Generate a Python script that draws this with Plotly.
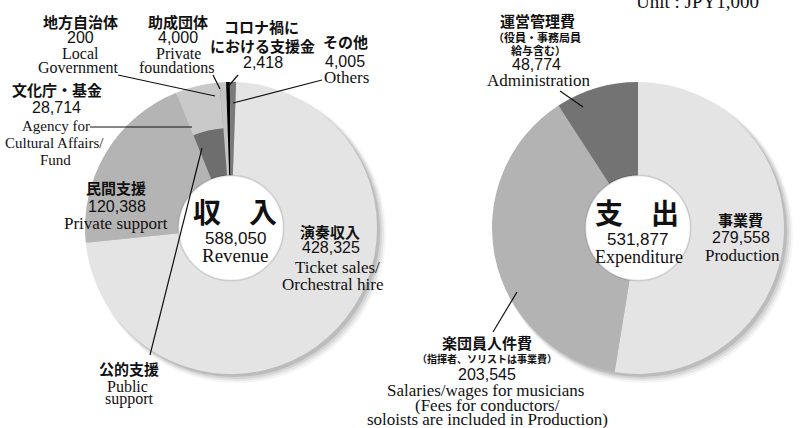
import plotly.graph_objects as go

W, H = 803, 428

# ---------------- data ----------------
rev_labels = ["演奏収入", "民間支援", "文化庁・基金", "地方自治体", "助成団体", "コロナ禍における支援金", "その他"]
rev_labels_en = ["Ticket sales/Orchestral hire", "Private support", "Agency for Cultural Affairs/Fund",
                 "Local Government", "Private foundations", "COVID-19 support", "Others"]
rev_values = [428325, 120388, 28714, 200, 4000, 2418, 4005]
rev_total = 588050

exp_labels = ["事業費", "楽団員人件費", "運営管理費"]
exp_labels_en = ["Production", "Salaries/wages for musicians", "Administration"]
exp_values = [279558, 203545, 48774]
exp_total = 531877

# ---------------- style ----------------
rev_colors = ["#e4e4e4", "#b4b4b4", "#c9c9c9", "#a0a0a0", "#c4c4c4", "#000000", "#7a7a7a"]
exp_colors = ["#e4e4e4", "#b3b3b3", "#737373"]
JP = "Noto Sans CJK JP"
NUM = "Liberation Sans"
SER = "Liberation Serif"


def dom(cx, cy, r):
    return dict(x=[(cx - r) / W, (cx + r) / W], y=[1 - (cy + r) / H, 1 - (cy - r) / H])


LCX, LCY, R = 231, 228, 146
RCX, RCY = 638, 228
HOLE = 0.36

fig = go.Figure()

fig.add_trace(go.Pie(values=rev_values, labels=rev_labels, sort=False, direction="clockwise",
                     rotation=2, hole=HOLE, domain=dom(LCX, LCY, R), textinfo="none",
                     marker=dict(colors=rev_colors, line=dict(width=0)), hoverinfo="label+value"))

# inner ring: public support (文化庁・基金 + 地方自治体)
inner_vals = [rev_values[0] + rev_values[1], rev_values[2] + rev_values[3], sum(rev_values[4:])]
RI = 100
fig.add_trace(go.Pie(values=inner_vals, labels=["a", "公的支援", "b"], sort=False, direction="clockwise",
                     rotation=2, hole=(R * HOLE) / RI, domain=dom(LCX, LCY, RI), textinfo="none",
                     marker=dict(colors=["rgba(0,0,0,0)", "#6e6e6e", "rgba(0,0,0,0)"], line=dict(width=0)),
                     hoverinfo="skip"))

fig.add_trace(go.Pie(values=exp_values, labels=exp_labels, sort=False, direction="clockwise",
                     rotation=0, hole=HOLE, domain=dom(RCX, RCY, R), textinfo="none",
                     marker=dict(colors=exp_colors, line=dict(width=0)), hoverinfo="label+value"))

shapes = []


def circ(cx, cy, rx0, rx1, ry0, ry1, fill, layer, lc="rgba(0,0,0,0)", lw=0):
    shapes.append(dict(type="circle", xref="paper", yref="paper", layer=layer,
                       x0=(cx - rx0) / W, x1=(cx + rx1) / W,
                       y0=1 - (cy + ry1) / H, y1=1 - (cy - ry0) / H,
                       fillcolor=fill, line=dict(width=lw, color=lc)))


HR = R * HOLE
for cx, cy in [(LCX, LCY), (RCX, RCY)]:
    # soft drop shadow toward lower right
    for k, op in [(9, 0.04), (7, 0.06), (5, 0.08), (3, 0.11)]:
        circ(cx, cy, R - 3, R + k, R - 3, R + k, f"rgba(0,0,0,{op})", "below")
    # white centre with a faint inner shade
    circ(cx, cy, HR, HR, HR, HR, "white", "above", "rgba(0,0,0,0.10)", 2)
    circ(cx, cy, HR - 2, HR - 2, HR - 2, HR - 2, "white", "above")


def line(x0, y0, x1, y1):
    shapes.append(dict(type="line", xref="paper", yref="paper", x0=x0 / W, y0=1 - y0 / H,
                       x1=x1 / W, y1=1 - y1 / H, line=dict(color="#111", width=1.2)))


line(118, 75, 215, 96)     # local government
line(213, 75, 220, 89)     # private foundations
line(238, 75, 227, 88)     # covid
line(322, 80, 233, 103)    # others
line(90, 127, 192, 127)    # agency
line(150, 355, 202, 148)   # public support
line(560, 91, 583, 107)    # administration
line(493, 332, 517, 292)   # salaries

anns = []


def ann(x, y, text, size, family, bold=False):
    anns.append(dict(x=x / W, y=1 - y / H, xref="paper", yref="paper", text=text, showarrow=False,
                     xanchor="center", yanchor="middle",
                     font=dict(size=size, family=family, color="#111", weight="bold" if bold else "normal")))


def num(v):
    return f"{v:,}"


# revenue labels
ann(80, 21, rev_labels[3], 15, JP, True)
ann(80, 38, num(rev_values[3]), 16, NUM)
ann(80, 54, "Local", 16, SER)
ann(78, 67, "Government", 16, SER)

ann(178, 21, rev_labels[4], 15, JP, True)
ann(178, 38, num(rev_values[4]), 16, NUM)
ann(178, 54, "Private", 16, SER)
ann(177, 67, "foundations", 16, SER)

ann(261, 27, "コロナ禍に", 15, JP, True)
ann(262, 45, "における支援金", 15, JP, True)
ann(263, 63, num(rev_values[5]), 16, NUM)

ann(345, 42, rev_labels[6], 15, JP, True)
ann(345, 61, num(rev_values[6]), 16, NUM)
ann(346, 78, "Others", 17, SER)

ann(57, 90, rev_labels[2], 15, JP, True)
ann(56, 108, num(rev_values[2]), 16, NUM)
ann(56, 126, "Agency for", 15, SER)
ann(54, 143, "Cultural Affairs/", 15, SER)
ann(55, 160, "Fund", 15, SER)

ann(116, 188, rev_labels[1], 15, JP, True)
ann(117, 206, num(rev_values[1]), 16, NUM)
ann(116, 223, "Private support", 17, SER)

ann(235, 211, "収　入", 28, JP, True)
ann(235, 238, num(rev_total), 17, NUM)
ann(235, 256, "Revenue", 19, SER)

ann(330, 231, rev_labels[0], 15, JP, True)
ann(331, 248, num(rev_values[0]), 16, NUM)
ann(337, 267, "Ticket sales/", 17, SER)
ann(332, 284, "Orchestral hire", 17, SER)

ann(129, 368, "公的支援", 15, JP, True)
ann(127, 386, "Public", 16, SER)
ann(129, 399, "support", 16, SER)

# expenditure labels
ann(697, 1, "Unit : JPY1,000", 19, SER)

ann(537, 20, exp_labels[2], 15, JP, True)
ann(537, 37, "（役員・事務局員", 11, JP, True)
ann(538, 50, "給与含む）", 11, JP, True)
ann(536, 65, num(exp_values[2]), 16, NUM)
ann(538, 81, "Administration", 17, SER)

ann(637, 212, "支　出", 28, JP, True)
ann(637, 239, num(exp_total), 17, NUM)
ann(639, 257, "Expenditure", 18, SER)

ann(740, 220, exp_labels[0], 15, JP, True)
ann(741, 237, num(exp_values[0]), 16, NUM)
ann(742, 255, "Production", 17, SER)

ann(487, 342, exp_labels[1], 15, JP, True)
ann(487, 358, "（指揮者、ソリストは事業費）", 10, JP, True)
ann(487, 374, num(exp_values[1]), 16, NUM)
ann(485, 390, "Salaries/wages for musicians", 17, SER)
ann(487, 405, "(Fees for conductors/", 17, SER)
ann(487, 419, "soloists are included in Production)", 17, SER)

fig.update_layout(width=W, height=H, margin=dict(l=0, r=0, t=0, b=0),
                  paper_bgcolor="white", plot_bgcolor="white", showlegend=False,
                  shapes=shapes, annotations=anns)

fig.write_html("out.html", config={"displayModeBar": False},
               post_script="document.body.style.margin='0';")
